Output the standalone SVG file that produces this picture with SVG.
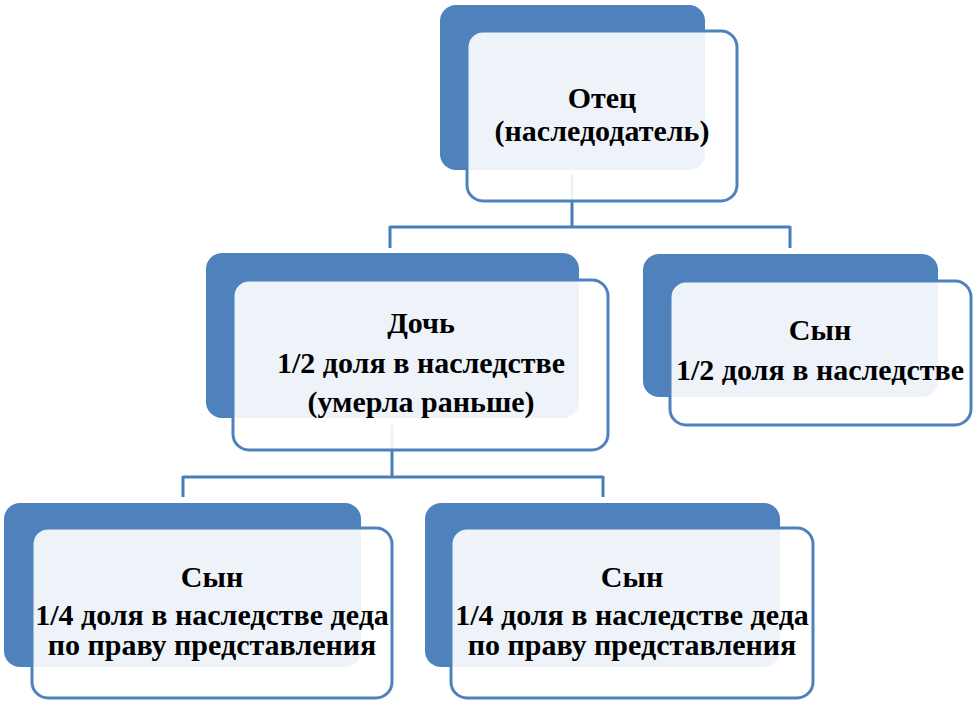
<svg xmlns="http://www.w3.org/2000/svg" width="978" height="706" viewBox="0 0 978 706">
<rect width="978" height="706" fill="#FFFFFF"/>
<g id="connectors" fill="none" stroke="#4A7EBB" stroke-width="3">
<path d="M572,175 V227 M390,227 H790 M390,226 V248 M790,226 V248"/>
<path d="M392,425 V477 M183,477 H603 M183,476 V497 M603,476 V497"/>
</g>
<g id="father">
<rect fill="#4F81BD" x="440" y="5" width="265" height="165" rx="16"/>
<rect fill="#FFFFFF" fill-opacity="0.9" stroke="#4F81BD" stroke-width="3" x="467" y="31" width="270" height="170" rx="16"/>
<text x="602" y="108" text-anchor="middle" font-family="Liberation Serif" font-weight="bold" font-size="30">Отец</text>
<text x="602" y="141" text-anchor="middle" font-family="Liberation Serif" font-weight="bold" font-size="30">(наследодатель)</text>
</g>
<g id="daughter">
<rect fill="#4F81BD" x="206" y="253" width="373" height="165" rx="16"/>
<rect fill="#FFFFFF" fill-opacity="0.9" stroke="#4F81BD" stroke-width="3" x="233" y="280" width="375" height="170" rx="16"/>
<text x="421" y="333" text-anchor="middle" font-family="Liberation Serif" font-weight="bold" font-size="30">Дочь</text>
<text x="421" y="373" text-anchor="middle" font-family="Liberation Serif" font-weight="bold" font-size="30">1/2 доля в наследстве</text>
<text x="421" y="412" text-anchor="middle" font-family="Liberation Serif" font-weight="bold" font-size="30">(умерла раньше)</text>
</g>
<g id="son">
<rect fill="#4F81BD" x="643" y="254" width="295" height="143" rx="16"/>
<rect fill="#FFFFFF" fill-opacity="0.9" stroke="#4F81BD" stroke-width="3" x="670" y="281" width="301" height="144" rx="16"/>
<text x="820" y="340" text-anchor="middle" font-family="Liberation Serif" font-weight="bold" font-size="30">Сын</text>
<text x="820" y="380" text-anchor="middle" font-family="Liberation Serif" font-weight="bold" font-size="30">1/2 доля в наследстве</text>
</g>
<g id="grandson1">
<rect fill="#4F81BD" x="4" y="503" width="357" height="164" rx="16"/>
<rect fill="#FFFFFF" fill-opacity="0.9" stroke="#4F81BD" stroke-width="3" x="32" y="528" width="360" height="170" rx="16"/>
<text x="212" y="587" text-anchor="middle" font-family="Liberation Serif" font-weight="bold" font-size="30">Сын</text>
<text x="212" y="625" text-anchor="middle" font-family="Liberation Serif" font-weight="bold" font-size="30">1/4 доля в наследстве деда</text>
<text x="212" y="655" text-anchor="middle" font-family="Liberation Serif" font-weight="bold" font-size="30">по праву представления</text>
</g>
<g id="grandson2">
<rect fill="#4F81BD" x="425" y="503" width="355" height="164" rx="16"/>
<rect fill="#FFFFFF" fill-opacity="0.9" stroke="#4F81BD" stroke-width="3" x="451" y="528" width="362" height="170" rx="16"/>
<text x="632" y="587" text-anchor="middle" font-family="Liberation Serif" font-weight="bold" font-size="30">Сын</text>
<text x="632" y="625" text-anchor="middle" font-family="Liberation Serif" font-weight="bold" font-size="30">1/4 доля в наследстве деда</text>
<text x="632" y="655" text-anchor="middle" font-family="Liberation Serif" font-weight="bold" font-size="30">по праву представления</text>
</g>
</svg>
